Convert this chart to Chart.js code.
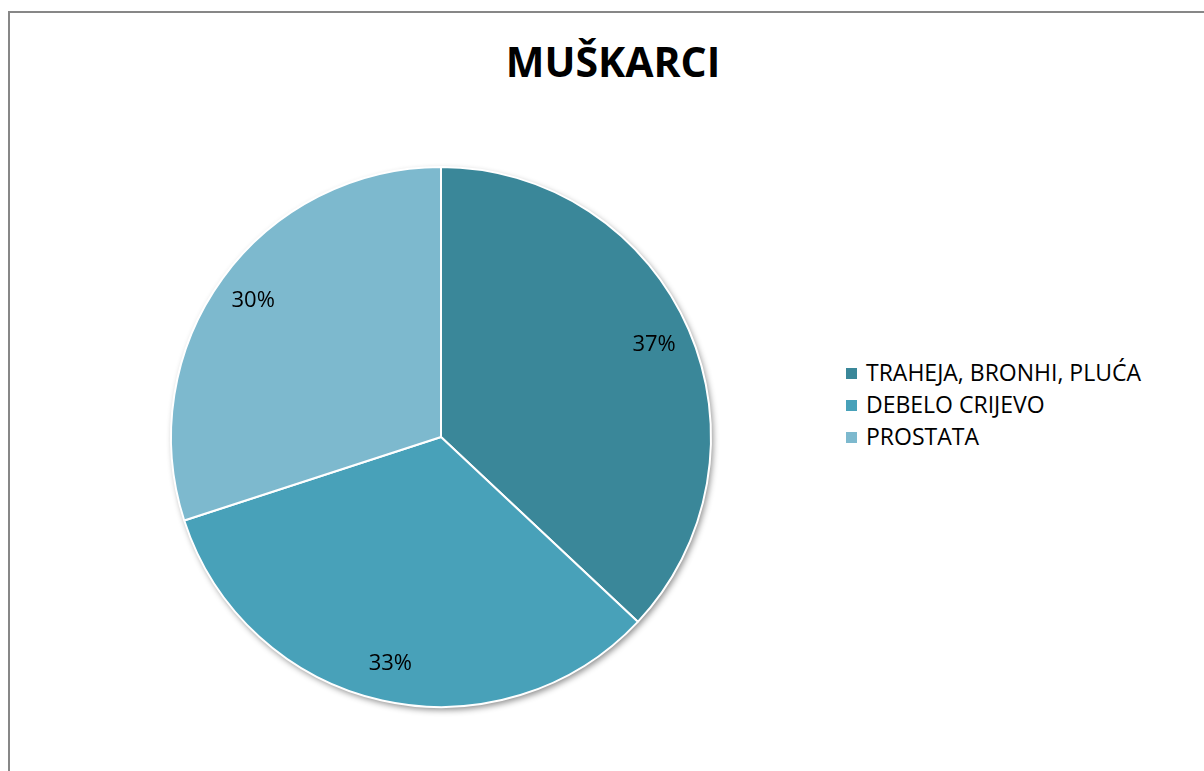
<!DOCTYPE html>
<html>
<head>
<meta charset="utf-8">
<script src="https://cdn.jsdelivr.net/npm/chart.js@4"></script>
<style>
  body { margin: 0; background: #fff; font-family: "Open Sans", sans-serif; }
  .frame {
    position: absolute; left: 8px; top: 11px; width: 1300px; height: 900px;
    border-left: 2px solid #878787; border-top: 2px solid #878787;
  }
  .wrap { position: absolute; left: 0; top: 0; width: 1204px; height: 771px; overflow: hidden; }
  h1 {
    position: absolute; left: 0; width: 1226px; top: 31px; margin: 0; line-height: 60px;
    text-align: center; font-size: 41px; font-weight: 700; color: #000;
  }
  .legend { position: absolute; left: 846px; top: 356px; font-size: 23px; color: #000; }
  .legend div { height: 32px; line-height: 32px; white-space: nowrap; }
  .legend span {
    display: inline-block; width: 11px; height: 11px; margin-right: 9px; vertical-align: 2px;
  }
  canvas { position: absolute; left: 0; top: 0; }
</style>
</head>
<body>
<div class="wrap">
  <div class="frame"></div>
  <h1 id="title"></h1>
  <div class="legend" id="legend"></div>
  <canvas id="myChart" width="1204" height="771"></canvas>
</div>
<script>
const title = "MUŠKARCI";
const categories = ["TRAHEJA, BRONHI, PLUĆA", "DEBELO CRIJEVO", "PROSTATA"];
const values = [37, 33, 30];
const colors = ["#3a8799", "#48a1b9", "#7db9ce"];

document.getElementById("title").textContent = title;

// legend
const legend = document.getElementById("legend");
categories.forEach((c, i) => {
  const row = document.createElement("div");
  const box = document.createElement("span");
  box.style.background = colors[i];
  row.appendChild(box);
  row.appendChild(document.createTextNode(c));
  legend.appendChild(row);
});

// soft shadow under the whole pie
const pieShadow = {
  id: "pieShadow",
  beforeDatasetsDraw(chart) {
    const arc = chart.getDatasetMeta(0).data[0];
    if (!arc) return;
    const ctx = chart.ctx;
    ctx.save();
    ctx.shadowColor = "rgba(0,0,0,0.45)";
    ctx.shadowBlur = 6;
    ctx.shadowOffsetX = 2;
    ctx.shadowOffsetY = 3;
    ctx.fillStyle = "#fff";
    ctx.beginPath();
    ctx.arc(arc.x, arc.y, arc.outerRadius, 0, Math.PI * 2);
    ctx.fill();
    ctx.restore();
  },
};

// percentage labels
const pctLabels = {
  id: "pctLabels",
  afterDatasetsDraw(chart) {
    const ctx = chart.ctx;
    const total = values.reduce((a, b) => a + b, 0);
    ctx.save();
    ctx.font = "22px 'Open Sans', sans-serif";
    ctx.fillStyle = "#000";
    ctx.textAlign = "center";
    ctx.textBaseline = "middle";
    chart.getDatasetMeta(0).data.forEach((arc, i) => {
      const mid = (arc.startAngle + arc.endAngle) / 2;
      const r = arc.outerRadius * 0.86;
      const x = arc.x + Math.cos(mid) * r;
      const y = arc.y + Math.sin(mid) * r;
      ctx.fillText(Math.round((values[i] / total) * 100) + "%", x, y);
    });
    ctx.restore();
  },
};

let myChart = document.getElementById("myChart").getContext("2d");

let pieChart = new Chart(myChart, {
  type: "pie",
  data: {
    labels: categories,
    datasets: [
      {
        data: values,
        backgroundColor: colors,
        borderColor: "#ffffff",
        borderWidth: 2,
      },
    ],
  },
  options: {
    responsive: false,
    animation: false,
    layout: {
      padding: { left: 170, top: 166, right: 492, bottom: 63 },
    },
    plugins: {
      legend: { display: false },
      tooltip: { enabled: false },
    },
  },
  plugins: [pieShadow, pctLabels],
});
</script>
</body>
</html>
